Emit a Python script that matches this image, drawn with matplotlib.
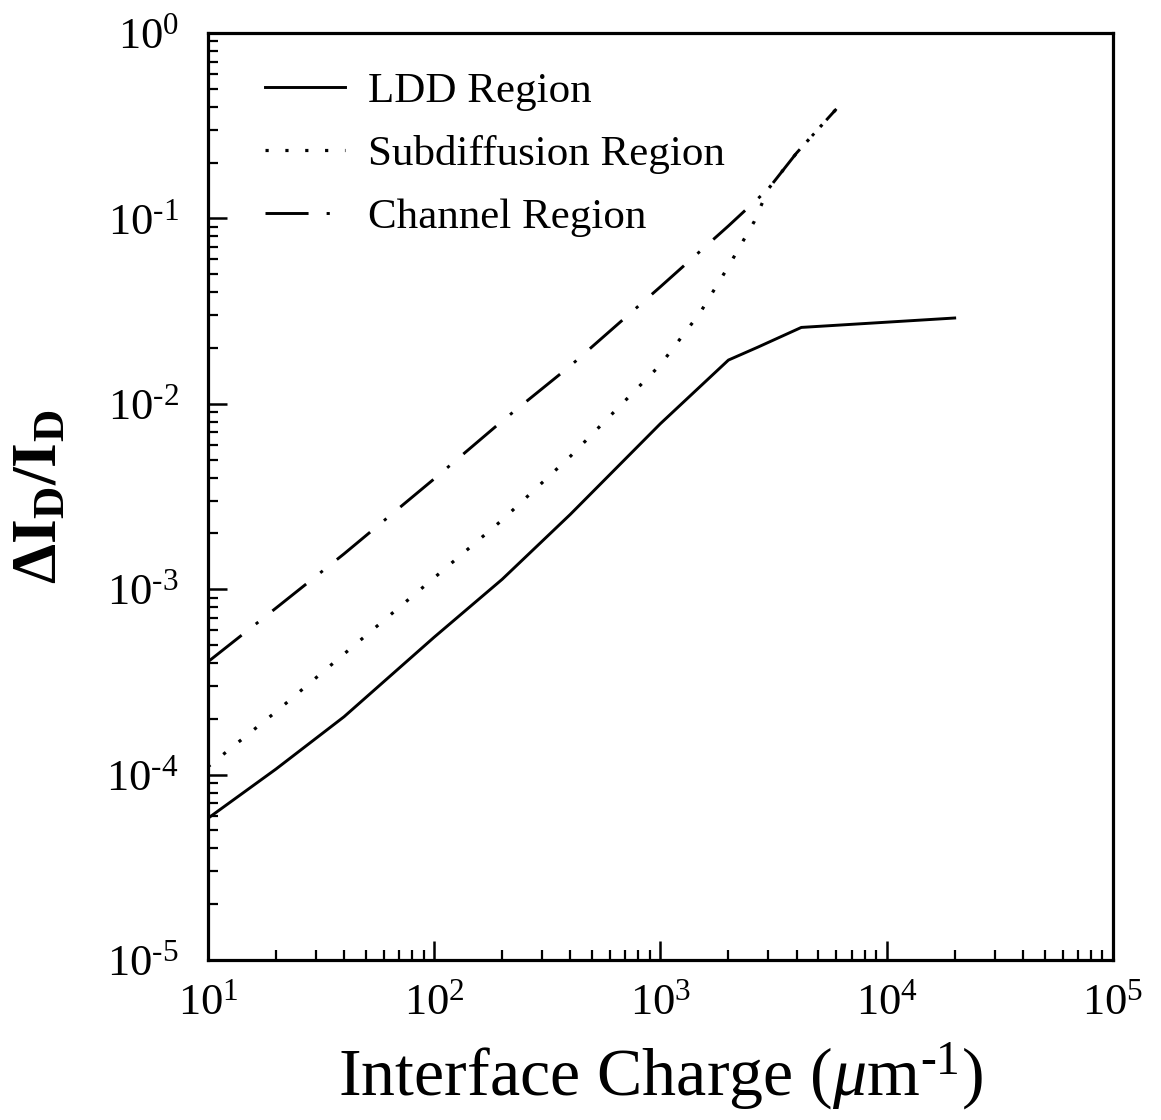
import matplotlib
matplotlib.use('Agg')
import matplotlib.pyplot as plt
from matplotlib.ticker import FuncFormatter, NullFormatter
import numpy as np

# values (log-log)
charge_ldd = [10, 20, 40, 100, 200, 400, 1000, 2000, 2700, 4200, 20000]
ldd = [5.8e-5, 1.07e-4, 2.05e-4, 5.5e-4, 1.13e-3, 2.53e-3, 7.8e-3, 0.0172, 0.0202, 0.0258, 0.029]

charge_sub = [10, 20, 40, 100, 200, 400, 1000, 1500, 2000, 2600, 3000, 4000, 6000]
subdiff = [1.1e-4, 2.18e-4, 4.47e-4, 1.15e-3, 2.36e-3, 5.2e-3, 0.0162, 0.031, 0.055, 0.096, 0.144, 0.225, 0.389]

charge_ch = [10, 20, 40, 100, 200, 400, 1000, 2000, 3000, 4000, 6000]
channel = [4.05e-4, 7.9e-4, 1.55e-3, 3.93e-3, 8.07e-3, 0.016, 0.0427, 0.091, 0.144, 0.225, 0.389]

labels = ['LDD Region', 'Subdiffusion Region', 'Channel Region']

plt.rcParams['font.family'] = ['Liberation Serif', 'DejaVu Serif']
plt.rcParams['mathtext.fontset'] = 'custom'
plt.rcParams['mathtext.rm'] = 'Liberation Serif'
plt.rcParams['mathtext.it'] = 'Liberation Serif:italic'
plt.rcParams['mathtext.bf'] = 'Liberation Serif:bold'
plt.rcParams['lines.scale_dashes'] = False


def pow_label(v, pos):
    e = int(round(np.log10(v)))
    if e < 0:
        return r'$10^{\text{-}%d}$' % (-e)
    return r'$10^{%d}$' % e


def main():
    fig = plt.figure(figsize=(11.61, 11.2), dpi=100)
    ax = fig.add_axes([0.179, 0.1429, 0.7795, 0.8277])

    ax.plot(charge_ldd, ldd, color='black', lw=2.1, label=labels[0])
    ax.plot(charge_sub, subdiff, color='black', lw=2.3, dashes=(2.3, 12), label=labels[1])
    ax.plot(charge_ch, channel, color='black', lw=2.1, dashes=(31, 13, 2.3, 13), label=labels[2])

    ax.set_xscale('log')
    ax.set_yscale('log')
    ax.set_xlim(10, 1e5)
    ax.set_ylim(1e-5, 1)

    for s in ax.spines.values():
        s.set_linewidth(2.3)

    ax.xaxis.set_major_formatter(FuncFormatter(pow_label))
    ax.yaxis.set_major_formatter(FuncFormatter(pow_label))
    ax.xaxis.set_minor_formatter(NullFormatter())
    ax.yaxis.set_minor_formatter(NullFormatter())

    ax.tick_params(which='major', direction='in', length=14, width=1.8,
                   labelsize=32, top=False, right=False)
    ax.tick_params(which='minor', direction='in', length=7, width=1.6,
                   top=False, right=False)
    ax.tick_params(axis='x', which='major', pad=17)
    ax.tick_params(axis='y', which='major', pad=21)

    ax.set_xlabel(r'Interface Charge ($\mu$m$^{\text{-}1}$)', fontsize=49, labelpad=12)
    ax.set_ylabel(r'$\mathbf{\Delta I_D/I_D}$', fontsize=46, labelpad=26)

    ax.legend(loc='upper left', bbox_to_anchor=(0.063, 0.958), frameon=False,
              fontsize=31, handlelength=1.86, handletextpad=0.53,
              labelspacing=0.55, borderpad=0, borderaxespad=0)

    fig.savefig('out.png', dpi=100)


main()
